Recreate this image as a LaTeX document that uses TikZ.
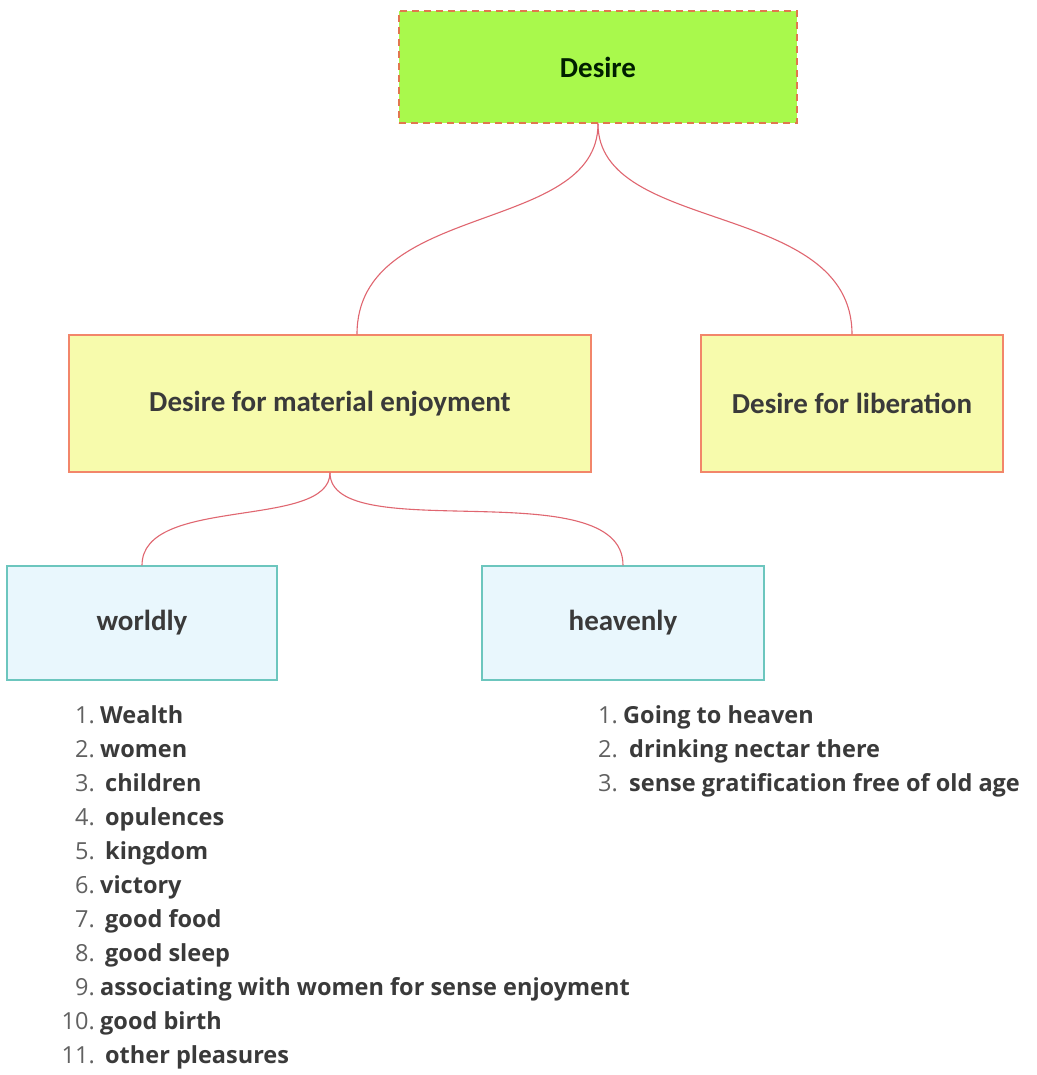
\documentclass[tikz,border=0pt]{standalone}
\usepackage{fontspec}
\setmainfont{Open Sans}
\newfontfamily\boxfont{Carlito}
\definecolor{limefill}{HTML}{A9F94C}
\definecolor{dashcol}{HTML}{E0784E}
\definecolor{yelfill}{HTML}{F7FBAC}
\definecolor{yelline}{HTML}{F2866A}
\definecolor{bluefill}{HTML}{E9F7FD}
\definecolor{blueline}{HTML}{6CC6BE}
\definecolor{linkcol}{HTML}{E06670}
\definecolor{txtcol}{HTML}{3A3A3A}
\begin{document}
\begin{tikzpicture}[x=1pt,y=-1pt,
  box/.style={draw, line width=1.4pt, inner sep=0pt, text=txtcol,
    font=\boxfont\bfseries\fontsize{29}{33}\selectfont},
  topbox/.style={box, fill=limefill, draw=dashcol, dash pattern=on 7pt off 5pt, text=black!80!green!60!black},
  yelbox/.style={box, fill=yelfill, draw=yelline},
  bluebox/.style={box, fill=bluefill, draw=blueline},
  link/.style={draw=linkcol, line width=1.1pt},
  num/.style={anchor=base east, inner sep=0pt, text=txtcol!80, font=\fontsize{23.5}{28}\selectfont},
  item/.style={anchor=base west, inner sep=0pt, text=txtcol, font=\bfseries\fontsize{23.5}{28}\selectfont}]
\useasboundingbox[fill=white] (0,0) rectangle (1036,1075);

\node[topbox, minimum width=398pt, minimum height=112pt] (desire) at (598,67) {Desire};
\node[yelbox, minimum width=522pt, minimum height=137pt] (mat) at (330,403.5) {Desire for material enjoyment};
\node[yelbox, minimum width=302pt, minimum height=137pt] (lib) at (852,403.5) {Desire for liberation};
\node[bluebox, minimum width=270pt, minimum height=114pt] (world) at (142,623) {worldly};
\node[bluebox, minimum width=282pt, minimum height=114pt] (heav) at (623,623) {heavenly};

\draw[link] (desire.south) .. controls (598,235) and (357,200) .. (mat.north -| 357,0);
\draw[link] (desire.south) .. controls (598,235) and (852,200) .. (lib.north);
\draw[link] (mat.south) .. controls (330,530) and (142,495) .. (world.north);
\draw[link] (mat.south) .. controls (330,548) and (623,470) .. (heav.north);

% worldly list
\foreach \n/\t/\x [count=\i] in {1./Wealth/100, 2./women/100, 3./children/105, 4./opulences/105, 5./kingdom/105, 6./victory/100, 7./good food/105, 8./good sleep/105, 9./associating with women for sense enjoyment/100, 10./good birth/100, 11./other pleasures/105}{
  \node[num] (wn\i) at (95,{723+(\i-1)*34}) {\n};
  \node[item] (wt\i) at (\x,{723+(\i-1)*34}) {\t};
}
% heavenly list
\foreach \n/\t/\x [count=\i] in {1./Going to heaven/623, 2./drinking nectar there/629, 3./sense gratification free of old age/629}{
  \node[num] (hn\i) at (618,{723+(\i-1)*34}) {\n};
  \node[item] (ht\i) at (\x,{723+(\i-1)*34}) {\t};
}
\end{tikzpicture}
\end{document}
